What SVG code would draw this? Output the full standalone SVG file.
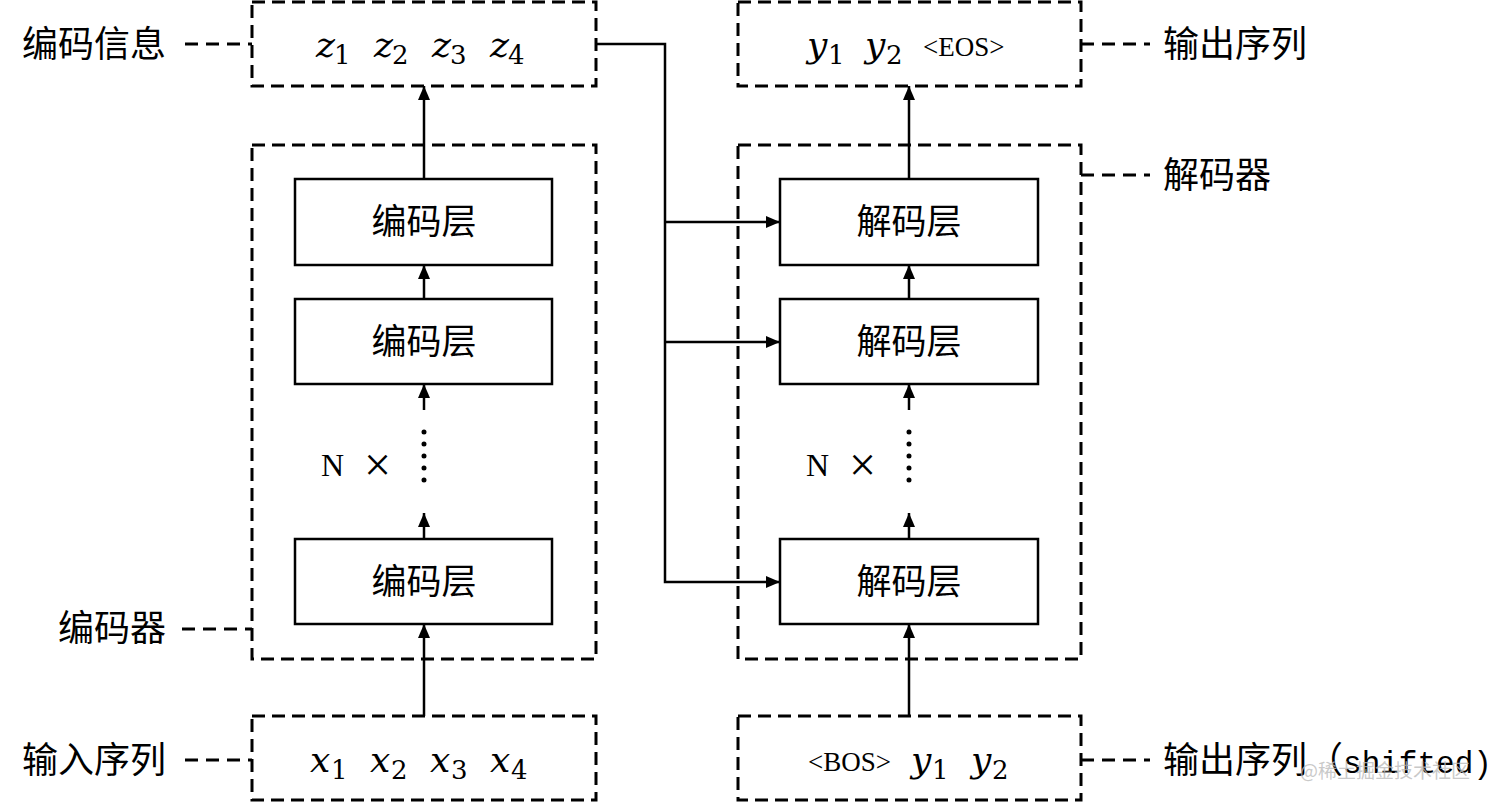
<svg xmlns="http://www.w3.org/2000/svg" width="1512" height="803" viewBox="0 0 1512 803">
<style>
.dbox{fill:none;stroke:#000;stroke-width:3;stroke-dasharray:13 7}
.lead{fill:none;stroke:#000;stroke-width:3;stroke-dasharray:13 8}
.layer{fill:#fff;stroke:#000;stroke-width:2.5}
.ln{fill:none;stroke:#000;stroke-width:2.5}
.dots{fill:none;stroke:#000;stroke-width:5;stroke-linecap:round;stroke-dasharray:0 12}
.cn{font-family:"Noto Sans CJK SC","Noto Sans",sans-serif;font-size:36px;fill:#000}
.cl{font-family:"Noto Sans CJK SC","Noto Sans",sans-serif;font-size:35px;fill:#000;text-anchor:middle}
.mi{font-family:"DejaVu Serif",serif;font-style:italic;font-size:36px;fill:#000}
.sb{font-family:"DejaVu Serif",serif;font-size:26px;fill:#000}
.tm{font-family:"Liberation Serif",serif;font-size:27px;fill:#000}
.nx{font-family:"Liberation Serif",serif;font-size:32px;fill:#000}
.xx{font-family:"Liberation Serif",serif;font-size:48px;fill:#000}
</style>
<defs>
<marker id="ah" markerUnits="userSpaceOnUse" markerWidth="14" markerHeight="12" viewBox="0 0 14 12" refX="14" refY="6" orient="auto">
<path d="M0,0 L14,6 L0,12 z" fill="#000"/>
</marker>
</defs>
<rect width="1512" height="803" fill="#fff"/>

<g id="connectors">
<polyline class="ln" points="596,44 665,44 665,582 780,582" marker-end="url(#ah)"/>
<line class="ln" x1="665" y1="222" x2="780" y2="222" marker-end="url(#ah)"/>
<line class="ln" x1="665" y1="342" x2="780" y2="342" marker-end="url(#ah)"/>
<line class="ln" x1="424" y1="716" x2="424" y2="624" marker-end="url(#ah)"/>
<line class="ln" x1="424" y1="539" x2="424" y2="513" marker-end="url(#ah)"/>
<line class="dots" x1="424" y1="432" x2="424" y2="492"/>
<line class="ln" x1="424" y1="410" x2="424" y2="384" marker-end="url(#ah)"/>
<line class="ln" x1="424" y1="299" x2="424" y2="265" marker-end="url(#ah)"/>
<line class="ln" x1="424" y1="179" x2="424" y2="86" marker-end="url(#ah)"/>
<line class="ln" x1="909" y1="716" x2="909" y2="624" marker-end="url(#ah)"/>
<line class="ln" x1="909" y1="539" x2="909" y2="513" marker-end="url(#ah)"/>
<line class="dots" x1="909" y1="432" x2="909" y2="492"/>
<line class="ln" x1="909" y1="410" x2="909" y2="384" marker-end="url(#ah)"/>
<line class="ln" x1="909" y1="299" x2="909" y2="265" marker-end="url(#ah)"/>
<line class="ln" x1="909" y1="179" x2="909" y2="86" marker-end="url(#ah)"/>
<line class="lead" x1="185" y1="44" x2="252" y2="44"/>
<line class="lead" x1="182" y1="629" x2="252" y2="629"/>
<line class="lead" x1="185" y1="760" x2="252" y2="760"/>
<line class="lead" x1="1081" y1="44" x2="1150" y2="44"/>
<line class="lead" x1="1081" y1="175" x2="1150" y2="175"/>
<line class="lead" x1="1081" y1="760" x2="1150" y2="760"/>
</g>

<g id="enc-info">
<rect class="dbox" x="252" y="2" width="344" height="84"/>
<text class="mi" x="316" y="57">z</text><text class="sb" x="334" y="64">1</text>
<text class="mi" x="374" y="57">z</text><text class="sb" x="392" y="64">2</text>
<text class="mi" x="432" y="57">z</text><text class="sb" x="450" y="64">3</text>
<text class="mi" x="490" y="57">z</text><text class="sb" x="508" y="64">4</text>
</g>
<g id="label-enc-info"><text class="cn" x="22" y="57">编码信息</text></g>

<g id="encoder">
<rect class="dbox" x="252" y="145" width="344" height="514"/>
<text class="nx" x="321" y="476">N</text>
<text class="xx" x="364" y="481">×</text>
</g>
<g id="label-encoder"><text class="cn" x="58" y="641">编码器</text></g>

<g id="enc-layer-3"><rect class="layer" x="295" y="179" width="257" height="86"/><text class="cl" x="424" y="234">编码层</text></g>
<g id="enc-layer-2"><rect class="layer" x="295" y="299" width="257" height="85"/><text class="cl" x="424" y="354">编码层</text></g>
<g id="enc-layer-1"><rect class="layer" x="295" y="539" width="257" height="85"/><text class="cl" x="424" y="594">编码层</text></g>

<g id="input-seq">
<rect class="dbox" x="252" y="716" width="344" height="84"/>
<text class="mi" x="310" y="772">x</text><text class="sb" x="331" y="779">1</text>
<text class="mi" x="370" y="772">x</text><text class="sb" x="391" y="779">2</text>
<text class="mi" x="430" y="772">x</text><text class="sb" x="451" y="779">3</text>
<text class="mi" x="490" y="772">x</text><text class="sb" x="511" y="779">4</text>
</g>
<g id="label-input"><text class="cn" x="22" y="773">输入序列</text></g>

<g id="out-seq">
<rect class="dbox" x="738" y="2" width="343" height="84"/>
<text class="mi" x="807" y="57">y</text><text class="sb" x="828" y="64">1</text>
<text class="mi" x="865" y="57">y</text><text class="sb" x="886" y="64">2</text>
<text class="tm" x="923" y="56">&lt;EOS&gt;</text>
</g>
<g id="label-out"><text class="cn" x="1163" y="57">输出序列</text></g>

<g id="decoder">
<rect class="dbox" x="738" y="145" width="343" height="514"/>
<text class="nx" x="806" y="476">N</text>
<text class="xx" x="849" y="481">×</text>
</g>
<g id="label-decoder"><text class="cn" x="1163" y="188">解码器</text></g>

<g id="dec-layer-3"><rect class="layer" x="780" y="179" width="258" height="86"/><text class="cl" x="909" y="234">解码层</text></g>
<g id="dec-layer-2"><rect class="layer" x="780" y="299" width="258" height="85"/><text class="cl" x="909" y="354">解码层</text></g>
<g id="dec-layer-1"><rect class="layer" x="780" y="539" width="258" height="85"/><text class="cl" x="909" y="594">解码层</text></g>

<g id="shifted-seq">
<rect class="dbox" x="738" y="716" width="343" height="84"/>
<text class="tm" x="808" y="771">&lt;BOS&gt;</text>
<text class="mi" x="911" y="772">y</text><text class="sb" x="932" y="779">1</text>
<text class="mi" x="971" y="772">y</text><text class="sb" x="992" y="779">2</text>
</g>
<g id="label-shifted"><text class="cn" x="1163" y="773">输出序列<tspan>（</tspan><tspan font-family="Liberation Mono,monospace" font-size="31">shifted)</tspan></text></g>

<text x="1300" y="778" font-family="Noto Sans CJK SC,sans-serif" font-size="19" fill="#bbb" fill-opacity="0.8">@稀土掘金技术社区</text>
</svg>
